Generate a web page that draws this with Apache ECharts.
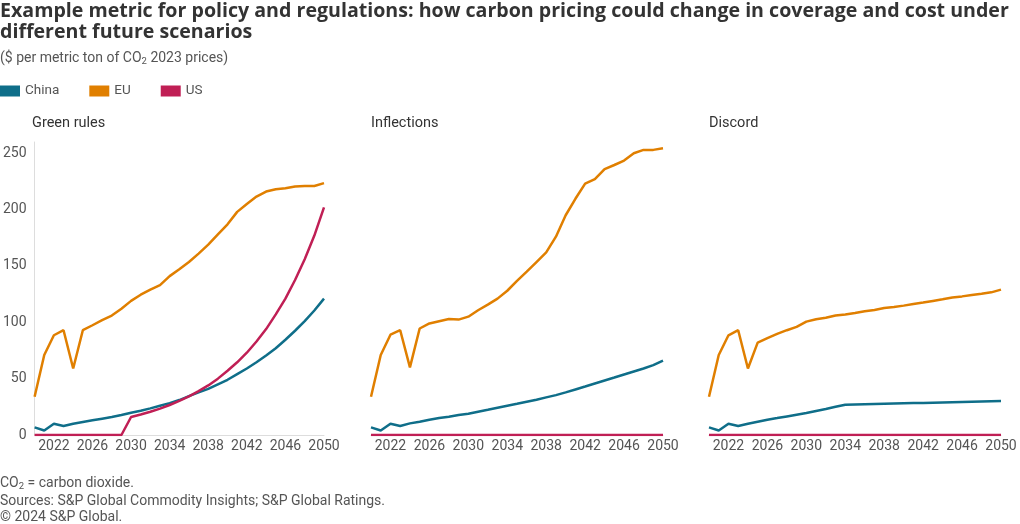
<!DOCTYPE html>
<html>
<head>
<meta charset="utf-8">
<script src="https://cdn.jsdelivr.net/npm/echarts@6/dist/echarts.min.js"></script>
<style>
html,body{margin:0;padding:0;background:#fff;}
#chart{width:1020px;height:524px;}
</style>
</head>
<body>
<div id="chart"></div>
<script>
const years = ['2020','2021','2022','2023','2024','2025','2026','2027','2028','2029','2030','2031','2032','2033','2034','2035','2036','2037','2038','2039','2040','2041','2042','2043','2044','2045','2046','2047','2048','2049','2050'];
const seriesNames = ['China', 'EU', 'US'];
const panelTitles = ['Green rules', 'Inflections', 'Discord'];

const greenChina = [6.8,4,10,8,10,11.5,13,14.5,16,17.7,19.8,21.5,23.6,26,28.3,31,34.5,37.8,41,45,49,54,59,64.5,70.5,77,84.5,92.5,101,110.5,121];
const greenEU = [34,71,88.5,93,59,93,97.4,102,106,112,119,124.5,129,133,141,147,153.5,161,169,178,187,198,205,211.6,216,218,219,220.5,221,221,223.5];
const greenUS = [0,0,0,0,0,0,0,0,0,0,16,18.2,20.6,23.4,26.6,30.2,34.3,38.9,44,50,57,64.5,73,83,94,107,121,137.5,156,177,202];

const inflChina = [6.8,4,10,8,10.3,11.8,13.6,15,16.2,17.7,18.9,20.7,22.4,24.2,26,27.7,29.5,31.3,33.4,35.4,37.8,40.4,43,45.7,48.4,51,53.7,56.4,59,62,66];
const inflEU = [34,71,89,93,60,94.5,99,101,103,102.4,105,110.7,115.7,121,128,136.7,145,153.5,162,176,195,209.6,223,227,236,239.6,243.5,250,253,253,254.4];
const inflUS = [0,0,0,0,0,0,0,0,0,0,0,0,0,0,0,0,0,0,0,0,0,0,0,0,0,0,0,0,0,0,0];

const discChina = [6.8,4,10,8,10,11.8,13.6,15,16.5,18,19.5,21.3,23,25,26.9,27.1,27.3,27.5,27.7,27.9,28.1,28.3,28.5,28.7,28.9,29.1,29.3,29.5,29.7,29.9,30.1];
const discEU = [34,71,88.5,93,59,82,86,89.7,93,96,100.6,102.7,104,106,107,108.3,109.8,111,112.7,113.6,114.8,116.3,117.5,119,120.4,122,123,124.3,125.4,126.6,129];
const discUS = [0,0,0,0,0,0,0,0,0,0,0,0,0,0,0,0,0,0,0,0,0,0,0,0,0,0,0,0,0,0,0];

const yTicksMin = 0, yTicksMax = 260, yInterval = 50;

const panels = [
  [greenChina, greenEU, greenUS],
  [inflChina, inflEU, inflUS],
  [discChina, discEU, discUS]
];
const colors = ['#0f6e89', '#e07f00', '#c01f55'];
const FONT = 'Roboto, "Noto Sans", sans-serif';
const TFONT = '"Open Sans", Roboto, sans-serif';
const gridLefts = [32, 371, 709];

const chart = echarts.init(document.getElementById('chart'), null, {renderer: 'canvas'});

const grids = [], xAxes = [], yAxes = [], series = [], titles = [];
titles.push({
  text: 'Example metric for policy and regulations: how carbon pricing could change in coverage and cost under\ndifferent future scenarios',
  left: 0, top: 1, padding: 0,
  textStyle: {fontFamily: TFONT, fontSize: 19.6, fontWeight: 'bold', color: '#333', lineHeight: 21}
});
titles.push({
  text: '{n|($ per metric ton of CO}{s|2}{n| 2023 prices)}',
  left: 0, top: 49, padding: 0,
  textStyle: {
    fontFamily: FONT, fontSize: 14, fontWeight: 'normal', color: '#555',
    rich: {
      n: {fontFamily: FONT, fontSize: 14, fontWeight: 'normal', color: '#555', lineHeight: 18},
      s: {fontFamily: FONT, fontSize: 9.5, fontWeight: 'normal', color: '#555', lineHeight: 8, verticalAlign: 'bottom'}
    }
  }
});
panels.forEach((p, i) => {
  grids.push({left: gridLefts[i], width: 292, top: 142, height: 293, containLabel: false});
  titles.push({
    text: panelTitles[i], left: gridLefts[i], top: 116, padding: 0,
    textStyle: {fontFamily: FONT, fontSize: 14.5, fontWeight: 'normal', color: '#333'}
  });
  xAxes.push({
    type: 'category', gridIndex: i, data: years, boundaryGap: false,
    axisLine: {show: true, lineStyle: {color: '#dddddd', width: 1}},
    axisTick: {show: false},
    axisLabel: {
      interval: (idx, val) => (Number(val) - 2022) % 4 === 0,
      fontFamily: FONT, fontSize: 14, color: '#555', margin: 4
    },
    splitLine: {show: false}
  });
  yAxes.push({
    type: 'value', gridIndex: i, min: yTicksMin, max: yTicksMax, interval: yInterval,
    axisLine: {show: i === 0, lineStyle: {color: '#dddddd', width: 1}},
    axisTick: {show: false},
    splitLine: {show: false},
    axisLabel: {
      show: i === 0, fontFamily: FONT, fontSize: 14, color: '#555', margin: 8,
      formatter: v => (v % yInterval === 0 ? String(v) : '')
    }
  });
  p.forEach((d, k) => {
    series.push({
      name: seriesNames[k], type: 'line', xAxisIndex: i, yAxisIndex: i,
      data: d, showSymbol: false, symbol: 'none',
      lineStyle: {color: colors[k], width: 2.5},
      itemStyle: {color: colors[k]},
      z: 2 + k, animation: false
    });
  });
});

chart.setOption({
  backgroundColor: '#ffffff',
  animation: false,
  color: colors,
  title: titles,
  legend: {
    data: seriesNames, left: 0, top: 84, padding: 0, icon: 'rect',
    itemWidth: 20, itemHeight: 11, itemGap: 30,
    textStyle: {fontFamily: FONT, fontSize: 13.5, color: '#555'}
  },
  grid: grids,
  xAxis: xAxes,
  yAxis: yAxes,
  series: series,
  graphic: [
    {type: 'text', left: 0, top: 476, style: {
      text: '{n|CO}{s|2}{n| = carbon dioxide.}',
      rich: {
        n: {fontFamily: FONT, fontSize: 14, fill: '#555', lineHeight: 17},
        s: {fontFamily: FONT, fontSize: 9.5, fill: '#555', lineHeight: 8, verticalAlign: 'bottom'}
      }
    }},
    {type: 'text', left: 0, top: 494, style: {
      text: 'Sources: S&P Global Commodity Insights; S&P Global Ratings.',
      font: '14px ' + FONT, fill: '#555'
    }},
    {type: 'text', left: 0, top: 510, style: {
      text: '\u00a9 2024 S&P Global.',
      font: '14px ' + FONT, fill: '#555'
    }}
  ]
});
</script>
</body>
</html>
